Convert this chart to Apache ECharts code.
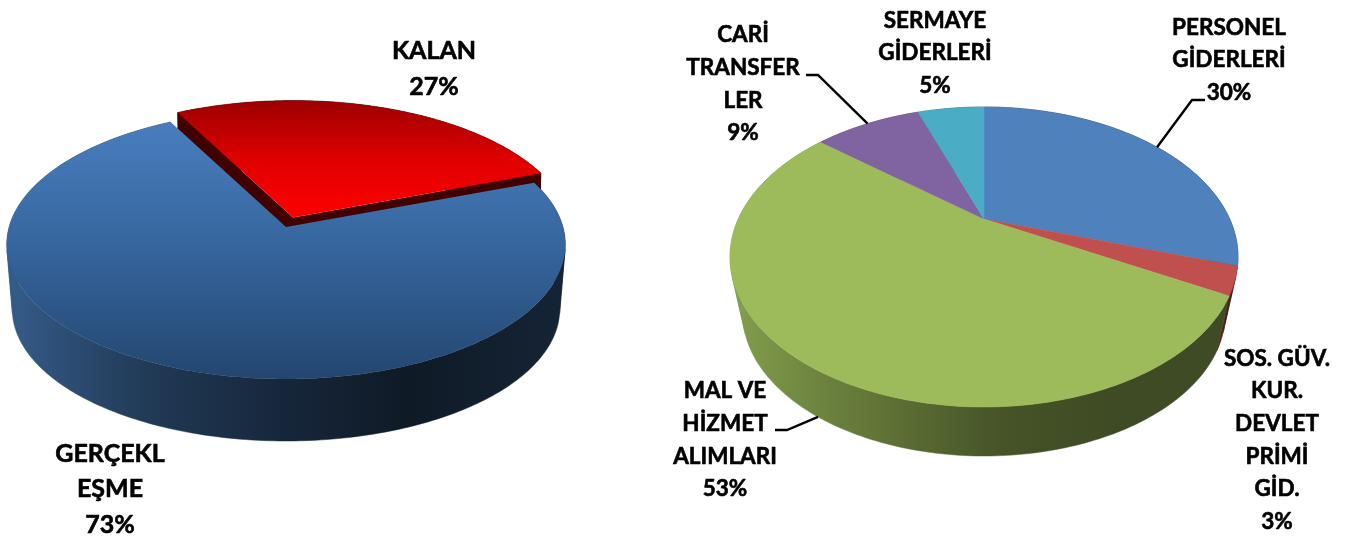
<!DOCTYPE html>
<html>
<head>
<meta charset="utf-8">
<style>html,body{margin:0;padding:0;background:#fff}#c{width:1352px;height:539px}</style>
<script src="https://cdn.jsdelivr.net/npm/echarts@6/dist/echarts.min.js"></script>
</head>
<body>
<div id="c"></div>
<script>
// ---- data ----
const leftCategories = ['GERÇEKL\nEŞME', 'KALAN'];
const leftValues = [73, 27];
const rightCategories = ['PERSONEL\nGİDERLERİ', 'SOS. GÜV.\nKUR.\nDEVLET\nPRİMİ\nGİD.', 'MAL VE\nHİZMET\nALIMLARI', 'CARİ\nTRANSFER\nLER', 'SERMAYE\nGİDERLERİ'];
const rightValues = [30, 3, 53, 8.6, 5.4];

// ---- styling / layout ----
const FONT = 'Lato, Carlito, sans-serif';
const leftStyle = {
  geom: { leftX: 6.7, rightX: 565.3, apexY: 227, topY: 110, frontY: 379, wallFrontY: 441, k: 0.98 },
  startAngle: 69.5,
  explode: [[0, 0], [7, -9.5]],
  topFill: [
    [[0, 110], [0, 379], [[0, '#4a80c2'], [0.48, '#37679f'], [1, '#234670']]],
    [[0, 102], [0, 218], [[0, '#9e0000'], [0.5, '#e00000'], [1, '#ff0000']]]
  ],
  wallBase: ['#4a80c0', '#400000'],
  wallShades: [[[0, 0.72], [0.25, 0.45], [0.5, 0.3], [0.72, 0.2], [1, 0.28]], [[0, 1], [1, 1]]],
  labelPos: [[110, 489], [434, 69]],
  fontSize: 25, lineHeight: 35.5,
  leaders: [null, null]
};
const rightStyle = {
  geom: { leftX: 730, rightX: 1238, apexY: 219, topY: 107, frontY: 407, wallFrontY: 456, k: 0.95 },
  startAngle: 0,
  explode: [[0, 0], [0, 0], [0, 0], [0, 0], [0, 0]],
  topFill: ['#4f81bd', '#c0504d', '#9dbb5b', '#8064a2', '#4bacc6'],
  wallBase: ['#4f81bd', '#c0504d', '#9bbb59', '#8064a2', '#4bacc6'],
  wallShades: [[0, 0.85], [0.18, 0.7], [0.53, 0.45], [0.75, 0.4], [1, 0.4]],
  labelPos: [[1229, 60], [1277, 440], [725, 440], [743, 84], [935, 53]],
  fontSize: 22.5, lineHeight: 32.7,
  leaders: [
    { ring: 'top', via: [[1192, 100], [1205, 100]] }, null,
    { ring: 'bottom', via: [[787, 430], [775, 430]] },
    { ring: 'top', via: [[818, 75], [806, 75]] }, null
  ]
};

function makeProjection(g) {
  const cx = (g.leftX + g.rightX) / 2, rx = (g.rightX - g.leftX) / 2;
  const sum = g.topY + g.frontY;
  // homography of the unit circle: top/apex/front rows fix the perspective
  const c = (2 * g.apexY - sum) / (g.frontY - g.topY);
  const a = g.apexY - g.topY + g.topY * c;
  const A = rx * Math.sqrt(1 - c * c);
  const d = g.wallFrontY - g.apexY - g.k * (g.frontY - g.apexY);
  return function (deg, bottom, off) {
    const t = deg * Math.PI / 180, u = Math.sin(t), v = -Math.cos(t);
    const w = 1 + c * v;
    let x = A * u / w, y = (a * v + g.apexY) / w - g.apexY;
    if (bottom) { x *= g.k; y = y * g.k + d; }
    return [cx + x + off[0], g.apexY + y + off[1]];
  };
}
function shade(hex, f) {
  const n = parseInt(hex.slice(1), 16);
  return 'rgb(' + [(n >> 16) & 255, (n >> 8) & 255, n & 255].map(function (p) { return Math.round(p * f); }).join(',') + ')';
}
function quadSign(a, b, c, d) {
  const pts = [a, b, c, d]; let area = 0;
  for (let i = 0; i < 4; i++) { const p = pts[i], q = pts[(i + 1) % 4]; area += p[0] * q[1] - q[0] * p[1]; }
  return area >= 0 ? 1 : -1;
}
function pieSeries(name, cats, vals, s) {
  const g = s.geom, proj = makeProjection(g);
  const total = vals.reduce(function (p, q) { return p + q; }, 0);
  const bounds = []; let acc = s.startAngle;
  vals.forEach(function (v) { bounds.push([acc, acc + v / total * 360]); acc += v / total * 360; });
  return {
    type: 'custom', name: name, coordinateSystem: 'none', silent: true, animation: false, clip: false,
    data: vals.map(function (v, i) { return { value: [v], name: cats[i] }; }),
    renderItem: function (params, api) {
      const i = params.dataIndex, off = s.explode[i];
      const span = bounds[i], base = (off[0] || off[1]) ? 0 : 10;
      const topArc = [], botArc = [];
      const n = Math.max(2, Math.ceil(span[1] - span[0]));
      for (let j = 0; j <= n; j++) {
        const ang = span[0] + (span[1] - span[0]) * j / n;
        topArc.push(proj(ang, false, off));
        botArc.push(proj(ang, true, off));
      }
      const apexTop = [(g.leftX + g.rightX) / 2 + off[0], g.apexY + off[1]];
      const kids = [];
      // outer wall: one band per run of same-facing quads, so turning sides stay filled
      const shades = Array.isArray(s.wallShades[0][0]) ? s.wallShades[i] : s.wallShades;
      const wallFill = new echarts.graphic.LinearGradient(g.leftX, 0, g.rightX, 0,
        shades.map(function (p) { return { offset: p[0], color: shade(s.wallBase[i], p[1]) }; }), true);
      let runStart = 0;
      for (let j = 0; j < n; j++) {
        const sign = quadSign(topArc[j], topArc[j + 1], botArc[j + 1], botArc[j]);
        const nextSign = j + 1 < n ? quadSign(topArc[j + 1], topArc[j + 2], botArc[j + 2], botArc[j + 1]) : 0;
        if (sign !== nextSign) {
          const t = topArc.slice(runStart, j + 2), b = botArc.slice(runStart, j + 2).reverse();
          kids.push({ type: 'polygon', z2: base, shape: { points: t.concat(b) },
            style: { fill: wallFill, stroke: wallFill, lineWidth: 0.5 } });
          runStart = j + 1;
        }
      }
      // cut faces of an exploded slice
      if (base === 0) {
        const dy = g.wallFrontY - g.frontY;
        const flat = shade(s.wallBase[i], 1);
        [topArc[0], topArc[n]].forEach(function (p) {
          kids.push({ type: 'polygon', z2: base, shape: { points: [apexTop, p, [p[0], p[1] + dy], [apexTop[0], apexTop[1] + dy]] },
            style: { fill: flat } });
        });
      }
      // top face
      const tf = s.topFill[i];
      const fill = typeof tf === 'string' ? tf : new echarts.graphic.LinearGradient(tf[0][0], tf[0][1], tf[1][0], tf[1][1],
        tf[2].map(function (p) { return { offset: p[0], color: p[1] }; }), true);
      kids.push({ type: 'polygon', z2: base + 1, shape: { points: [apexTop].concat(topArc) },
        style: { fill: fill, stroke: typeof tf === 'string' ? tf : null, lineWidth: 0.5 } });
      // leader line
      const lead = s.leaders[i];
      if (lead) {
        const mid = (span[0] + span[1]) / 2;
        kids.push({ type: 'polyline', z2: 30, shape: { points: [proj(mid, lead.ring === 'bottom', off)].concat(lead.via) },
          style: { fill: null, stroke: '#000', lineWidth: 2.4 } });
      }
      // label
      kids.push({ type: 'text', z2: 40, style: {
        text: cats[i] + '\n' + Math.round(api.value(0)) + '%',
        x: s.labelPos[i][0], y: s.labelPos[i][1],
        align: 'center', verticalAlign: 'middle',
        fill: '#000', stroke: '#000', lineWidth: 0.6,
        fontFamily: FONT, fontWeight: 'bold', fontSize: s.fontSize, lineHeight: s.lineHeight
      } });
      return { type: 'group', children: kids };
    }
  };
}
const chart = echarts.init(document.getElementById('c'), null, { renderer: 'canvas' });
chart.setOption({
  backgroundColor: '#fff',
  animation: false,
  series: [
    pieSeries('left', leftCategories, leftValues, leftStyle),
    pieSeries('right', rightCategories, rightValues, rightStyle)
  ]
});
</script>
</body>
</html>
